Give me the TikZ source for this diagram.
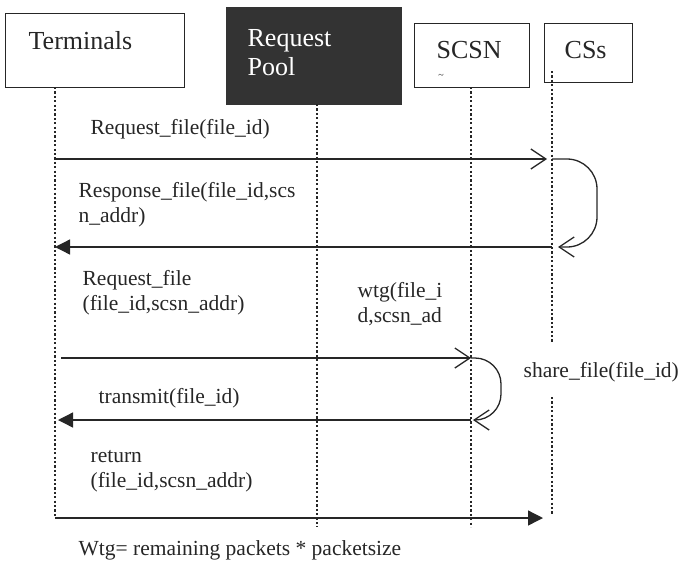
\documentclass[tikz,border=0pt]{standalone}
\usepackage{fontspec}
\setmainfont{Liberation Serif}
\usetikzlibrary{arrows.meta}
\definecolor{ink}{HTML}{262626}
\definecolor{pool}{HTML}{333333}

\begin{document}
\begin{tikzpicture}[x=1pt,y=-1pt,line width=1.3pt,color=ink,font=\fontsize{21.5}{24.5}\selectfont,
  box/.style={draw,anchor=north west,inner sep=0pt},
  head/.style={anchor=base west,inner sep=0pt,align=left,font=\fontsize{26}{29}\selectfont},
  msg/.style={anchor=base west,inner sep=0pt,align=left},
  life/.style={line width=2.5pt,dash pattern=on 2.2pt off 2.2pt},
  call/.style={-{Straight Barb[length=15pt,width=20pt]}},
  back/.style={-{Triangle[length=15pt,width=15pt]}}]
\useasboundingbox (0,0) rectangle (679,560);
% heads
\node[box,minimum width=179pt,minimum height=74pt] (term) at (5,13) {};
\node[box,fill=pool,draw=pool,minimum width=175pt,minimum height=97pt] (pool) at (226,7) {};
\node[box,minimum width=115pt,minimum height=64pt] (scsn) at (414,23) {};
\node[box,minimum width=88pt,minimum height=59pt] (css) at (544,23) {};
\node[head] (termlbl) at (28,49) {Terminals};
\node[head,text=white] (poollbl) at (247,75) {Request\\Pool};
\node[head] (scsnlbl) at (436,58) {SCSN};
\node[inner sep=0pt,font=\fontsize{10}{10}\selectfont] (scsncut) at (441,76) {\textasciitilde};
\node[head] (csslbl) at (564,58) {CSs};
% lifelines
\coordinate (lT) at (55,87);
\coordinate (lP) at (317,104);
\coordinate (lS) at (471,87);
\coordinate (lC) at (552,71);
\draw[life] (lT) -- (lT |- 0,518);
\draw[life] (lP) -- (lP |- 0,527);
\draw[life] (lS) -- (lS |- 0,527);
\draw[life] (lC) -- (lC |- 0,343);
\draw[life] (lC |- 0,397) -- (lC |- 0,515);
% messages
\draw[call,shorten >=5pt] (lT |- 0,159) -- (lC |- 0,159);
\draw[call,rounded corners=30pt] (lC |- 0,159) -| ++(45,88) -- ++(-39,0);
\draw[back] (lC |- 0,247) -- (lT |- 0,247);
\draw[call,shorten <=6pt] (lT |- 0,358) -- (lS |- 0,358);
\draw[call,rounded corners=26pt] (lS |- 0,358) -| ++(30,62) -- ++(-28,0);
\draw[back,shorten >=3pt] (lS |- 0,420) -- (lT |- 0,420);
\draw[back,shorten >=9pt] (lT |- 0,518) -- (lC |- 0,518);
% labels
\node[msg] (m1) at (90,134) {Request\_file(file\_id)};
\node[msg] (m2) at (78,222) {Response\_file(file\_id,scs\\n\_addr)};
\node[msg] (m3) at (82,310) {Request\_file\\(file\_id,scsn\_addr)};
\node[msg] (wtg) at (357,322) {wtg(file\_i\\d,scsn\_ad};
\node[msg] (m4) at (98,403) {transmit(file\_id)};
\node[msg] (share) at (523,377) {share\_file(file\_id)};
\node[msg] (m5) at (90,487) {return\\(file\_id,scsn\_addr)};
\node[msg] (note) at (78,555) {Wtg= remaining packets * packetsize};
\end{tikzpicture}
\end{document}
